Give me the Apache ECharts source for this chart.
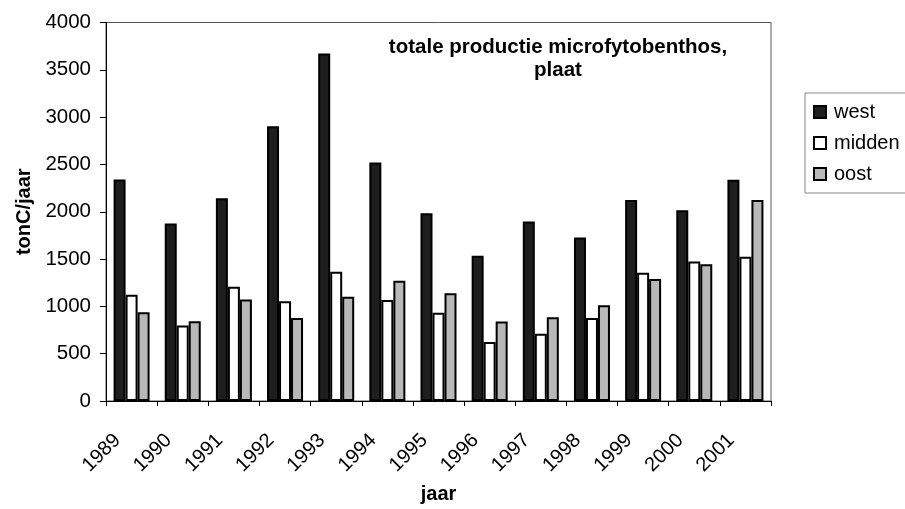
<!DOCTYPE html>
<html>
<head>
<meta charset="utf-8">
<script src="https://cdn.jsdelivr.net/npm/echarts@6/dist/echarts.min.js"></script>
<style>
html,body{margin:0;padding:0;background:#fff;}
#chart{width:905px;height:509px;}
</style>
</head>
<body>
<div id="chart"></div>
<script>
const years = ['1989','1990','1991','1992','1993','1994','1995','1996','1997','1998','1999','2000','2001'];
const west   = [2342, 1876, 2142, 2903, 3672, 2521, 1984, 1535, 1897, 1728, 2124, 2016, 2339];
const midden = [1124,  798, 1208, 1055, 1367, 1068,  932,  623,  711,  876, 1356, 1475, 1524];
const oost   = [ 939,  844, 1072,  876, 1103, 1272, 1139,  840,  886, 1012, 1289, 1444, 2124];
const yTicks = [0, 500, 1000, 1500, 2000, 2500, 3000, 3500, 4000];

const FONT = '"Liberation Sans", Arial, sans-serif';
const chart = echarts.init(document.getElementById('chart'), null, {renderer: 'canvas'});

function barSeries(name, data, color) {
  return {
    name: name,
    type: 'bar',
    data: data,
    barWidth: 12,
    barGap: '0%',
    itemStyle: {color: color, borderColor: '#000', borderWidth: 2}
  };
}

chart.setOption({
  backgroundColor: '#fff',
  animation: false,
  textStyle: {fontFamily: FONT, color: '#000'},
  title: {
    text: 'totale productie microfytobenthos,\nplaat',
    left: 558,
    top: 36,
    textAlign: 'center',
    padding: 0,
    textStyle: {fontFamily: FONT, fontSize: 20.5, fontWeight: 'bold', color: '#000', lineHeight: 23, align: 'center'}
  },
  legend: {
    orient: 'vertical',
    left: 805,
    top: 93,
    padding: [9, 20, 9, 8],
    itemWidth: 12,
    itemHeight: 12,
    itemGap: 11,
    icon: 'rect',
    borderColor: '#888',
    borderWidth: 1,
    backgroundColor: '#fff',
    textStyle: {fontFamily: FONT, fontSize: 20, color: '#000', lineHeight: 20, padding: [0, 0, 0, 3]},
    data: ['west', 'midden', 'oost']
  },
  grid: {
    left: 106, right: 134, top: 22.5, bottom: 106.5,
    show: true, borderColor: '#555', borderWidth: 1, backgroundColor: '#fff'
  },
  xAxis: {
    type: 'category',
    data: years,
    name: 'jaar',
    nameLocation: 'middle',
    nameGap: 83,
    nameTextStyle: {fontFamily: FONT, fontSize: 20, fontWeight: 'bold', color: '#000'},
    axisLine: {lineStyle: {color: '#000', width: 1}},
    axisTick: {show: true, length: 5, lineStyle: {color: '#000'}},
    axisLabel: {
      rotate: 45, fontFamily: FONT, fontSize: 20, color: '#000',
      margin: 22, padding: [0, 20, 0, 0], interval: 0
    },
    splitLine: {show: false}
  },
  yAxis: {
    type: 'value',
    min: 0, max: 4000, interval: 500,
    name: 'tonC/jaar',
    nameLocation: 'middle',
    nameRotate: 90,
    nameGap: 72,
    nameTextStyle: {fontFamily: FONT, fontSize: 20, fontWeight: 'bold', color: '#000'},
    axisLine: {show: true, lineStyle: {color: '#000', width: 1}},
    axisTick: {show: true, length: 6, lineStyle: {color: '#000'}},
    axisLabel: {
      fontFamily: FONT, fontSize: 20.5, color: '#000', margin: 15,
      formatter: function (v) { return yTicks.indexOf(v) >= 0 ? String(v) : ''; }
    },
    splitLine: {show: false}
  },
  series: [
    barSeries('west', west, '#1e1e1e'),
    barSeries('midden', midden, '#ffffff'),
    barSeries('oost', oost, '#b8b8b8')
  ]
});
</script>
</body>
</html>
